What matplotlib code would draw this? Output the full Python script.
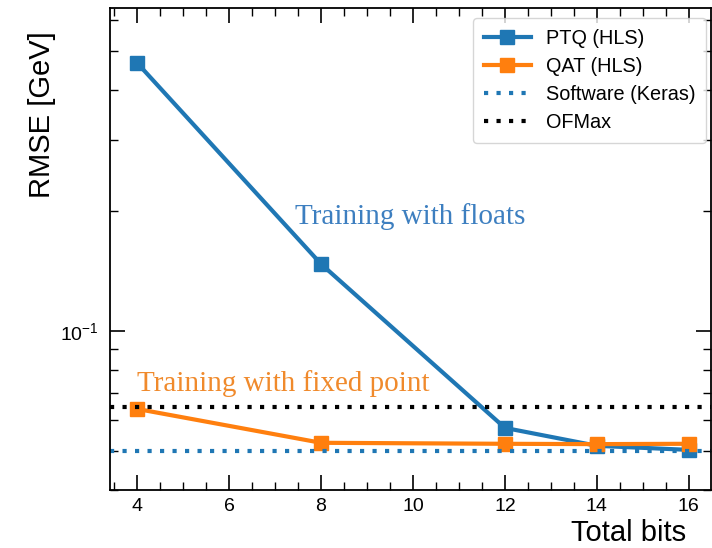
import matplotlib
matplotlib.use("Agg")
import matplotlib.pyplot as plt
from matplotlib.ticker import LogLocator, NullFormatter, MultipleLocator

plt.rcParams['font.family'] = ['Liberation Sans', 'DejaVu Sans']
plt.rcParams['mathtext.fontset'] = 'custom'
plt.rcParams['mathtext.rm'] = 'Liberation Sans'

# Data
total_bits = [4, 8, 12, 14, 16]
ptq_rmse = [0.468, 0.147, 0.0572, 0.0516, 0.0504]
qat_rmse = [0.0638, 0.0525, 0.0522, 0.0521, 0.0522]
keras_rmse = 0.0501
ofmax_rmse = 0.0646

fig = plt.figure(figsize=(7.12, 5.48), dpi=100)
ax = fig.add_axes([0.1545, 0.1058, 0.844, 0.8796])

ax.plot(total_bits, ptq_rmse, color='#1f77b4', lw=3, marker='s', ms=10,
        label='PTQ (HLS)')
ax.plot(total_bits, qat_rmse, color='#ff7f0e', lw=3, marker='s', ms=10,
        label='QAT (HLS)')
ax.axhline(keras_rmse, color='#1f77b4', lw=3, ls=(0, (1, 2)),
           label='Software (Keras)')
ax.axhline(ofmax_rmse, color='black', lw=3, ls=(0, (1, 2)), label='OFMax')

ax.set_yscale('log')
ax.set_xlim(3.41, 16.48)
ax.set_ylim(0.0400, 0.642)

ax.xaxis.set_major_locator(MultipleLocator(2))
ax.xaxis.set_minor_locator(MultipleLocator(0.5))
ax.yaxis.set_major_locator(LogLocator(base=10))
ax.yaxis.set_minor_locator(LogLocator(base=10, subs=range(2, 10)))
ax.yaxis.set_minor_formatter(NullFormatter())

ax.tick_params(which='both', direction='in', top=True, right=True,
               labelsize=14)
ax.tick_params(which='major', length=11, width=1.2)
ax.tick_params(which='minor', length=5.5, width=1.0)
ax.tick_params(axis='x', which='major', pad=6)
ax.tick_params(axis='y', which='major', pad=8)
for s in ax.spines.values():
    s.set_linewidth(1.3)

ax.set_ylabel('RMSE [GeV]', fontsize=21)
ax.yaxis.set_label_coords(-0.09, 0.778)
ax.set_xlabel('Total bits', fontsize=21, va='center')
ax.xaxis.set_label_coords(0.863, -0.09)

ax.text(9.93, 0.193, 'Training with floats', color='#3d7fc0',
        family='Liberation Serif', fontsize=21, ha='center', va='center')
ax.text(4.0, 0.0737, 'Training with fixed point', color='#f08a2c',
        family='Liberation Serif', fontsize=21, ha='left', va='center')

ax.legend(loc='upper right', fontsize=14.3, frameon=True, fancybox=True,
          handlelength=2.35, borderpad=0.55, labelspacing=0.45,
          handletextpad=0.75, borderaxespad=0,
          bbox_to_anchor=(0.992, 0.979))

fig.savefig('out.png', dpi=100)
